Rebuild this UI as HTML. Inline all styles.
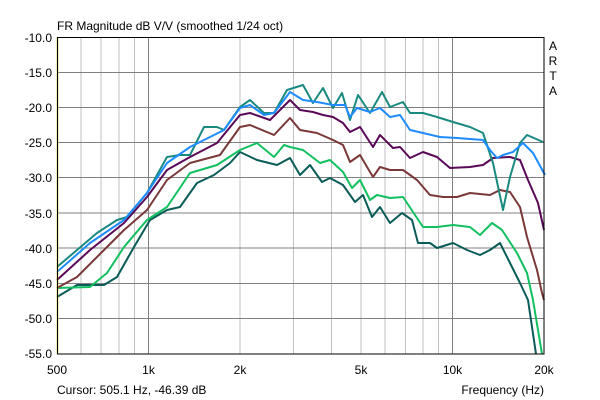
<!DOCTYPE html>
<html><head><meta charset="utf-8"><style>
body{margin:0;background:#fff;width:600px;height:400px;overflow:hidden}
svg{display:block;font-family:"Liberation Sans",sans-serif;font-size:12px}
</style></head><body>
<svg width="600" height="400" xmlns="http://www.w3.org/2000/svg">
<rect width="600" height="400" fill="#fff"/>
<g stroke="#c0c0c0" stroke-width="1">
<line x1="81" y1="37" x2="81" y2="354"/><line x1="101" y1="37" x2="101" y2="354"/><line x1="119" y1="37" x2="119" y2="354"/><line x1="134.5" y1="37" x2="134.5" y2="354"/>
<line x1="240" y1="37" x2="240" y2="354"/><line x1="293.5" y1="37" x2="293.5" y2="354"/><line x1="331.5" y1="37" x2="331.5" y2="354"/><line x1="361" y1="37" x2="361" y2="354"/><line x1="385" y1="37" x2="385" y2="354"/><line x1="405.5" y1="37" x2="405.5" y2="354"/><line x1="423" y1="37" x2="423" y2="354"/><line x1="438.5" y1="37" x2="438.5" y2="354"/>
</g>
<g stroke="#808080" stroke-width="1">
<line x1="148.5" y1="37" x2="148.5" y2="354"/><line x1="452.5" y1="37" x2="452.5" y2="354"/>
<line x1="57" y1="72.5" x2="544" y2="72.5"/><line x1="57" y1="107.5" x2="544" y2="107.5"/><line x1="57" y1="142.5" x2="544" y2="142.5"/><line x1="57" y1="177.5" x2="544" y2="177.5"/><line x1="57" y1="213" x2="544" y2="213"/><line x1="57" y1="248" x2="544" y2="248"/><line x1="57" y1="283.5" x2="544" y2="283.5"/><line x1="57" y1="318.5" x2="544" y2="318.5"/>
</g>
<g fill="none" stroke-width="2" stroke-linejoin="round">
<polyline stroke="#0a5c58" points="57,297 77,285 104,285 117,277 134,247 150,220 167,210 180,207 197,183 214,175 230,163 240,152 257,160 277,165 290,158 300,175 310,165 322,182 330,178 343,185 355,202 363,195 372,217 380,207 390,223 402,213 412,220 418,243 430,243 437,248 453,243 467,250 480,255 490,250 500,243 510,263 520,283 528,300 536,354"/>
<polyline stroke="#12c060" points="57,288 90,287 107,273 124,247 147,220 167,207 190,173 217,165 240,150 257,143 274,157 284,145 290,147 303,150 320,163 330,160 343,172 352,188 360,180 370,200 377,195 390,198 403,197 413,212 423,227 437,227 453,225 470,227 480,235 492,223 502,230 517,253 527,273 533,300 542,354"/>
<polyline stroke="#7a3838" points="57,288 77,277 107,247 124,230 147,210 167,180 190,163 220,155 240,127 250,125 274,135 290,118 300,130 317,133 333,140 343,145 350,162 360,155 373,177 380,167 390,170 403,170 417,180 430,195 443,197 457,197 470,193 490,195 500,190 510,192 520,207 527,237 537,270 542,293 544,300"/>
<polyline stroke="#5a0858" points="57,280 90,250 124,223 147,197 167,170 190,157 217,143 240,115 250,113 270,120 290,100 300,110 313,112 323,115 333,117 343,123 350,132 360,127 373,147 380,135 393,148 400,147 410,158 423,152 437,157 450,168 470,167 483,165 493,158 510,157 520,160 528,180 538,203 544,230"/>
<polyline stroke="#1a8a80" points="57,267 97,233 117,220 127,217 147,193 167,157 180,155 190,155 204,127 217,127 224,130 240,107 250,100 264,113 274,113 287,90 303,85 313,103 323,88 333,108 342,93 350,120 358,95 370,113 382,92 390,107 403,102 410,113 423,113 437,117 453,122 470,127 483,133 493,163 503,210 510,177 520,143 527,135 543,142"/>
<polyline stroke="#1e8cff" points="57,272 90,243 124,220 147,193 167,163 190,147 224,130 240,108 250,105 264,115 274,113 290,92 303,100 317,102 333,105 345,105 350,117 357,108 370,112 380,108 390,117 400,115 410,130 423,133 440,137 457,138 483,140 490,150 497,158 503,155 513,152 523,143 533,153 545,175"/>
</g>
<line x1="57.5" y1="37" x2="57.5" y2="354" stroke="#c8c000" stroke-width="1.5"/>
<rect x="57.5" y="37.5" width="486.5" height="316.5" fill="none" stroke="#000" stroke-width="1"/>
<text x="57" y="30" fill="#000">FR Magnitude dB V/V (smoothed 1/24 oct)</text>
<g text-anchor="end" fill="#000">
<text x="52" y="42">-10.0</text><text x="52" y="77">-15.0</text><text x="52" y="112">-20.0</text><text x="52" y="147">-25.0</text><text x="52" y="182">-30.0</text><text x="52" y="218">-35.0</text><text x="52" y="253">-40.0</text><text x="52" y="288">-45.0</text><text x="52" y="323">-50.0</text><text x="52" y="358">-55.0</text>
</g>
<g text-anchor="middle" fill="#000">
<text x="57" y="374">500</text><text x="148.5" y="374">1k</text><text x="240" y="374">2k</text><text x="361" y="374">5k</text><text x="452.5" y="374">10k</text><text x="544" y="374">20k</text>
<text x="553" y="50">A</text><text x="553" y="65">R</text><text x="553" y="80">T</text><text x="553" y="95">A</text>
</g>
<text x="57" y="394" fill="#000">Cursor: 505.1 Hz, -46.39 dB</text>
<text x="544" y="394" text-anchor="end" fill="#000">Frequency (Hz)</text>
</svg>
</body></html>
